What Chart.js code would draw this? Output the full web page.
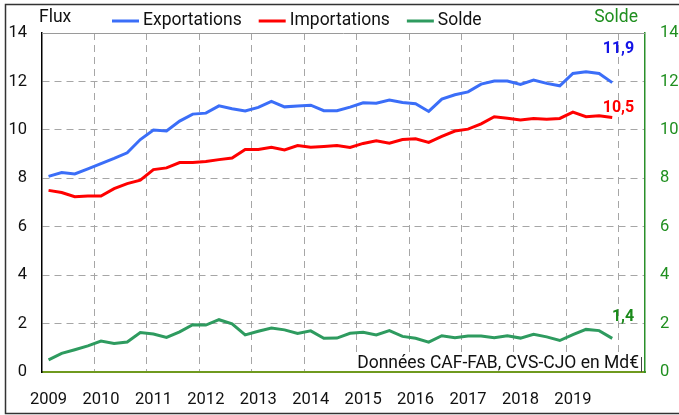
<!DOCTYPE html>
<html>
<head>
<meta charset="utf-8">
<script src="https://cdn.jsdelivr.net/npm/chart.js@4/dist/chart.umd.min.js"></script>
<style>
  html, body { margin: 0; padding: 0; background: #fff; }
  canvas { display: block; }
</style>
</head>
<body>
<canvas id="c" width="679" height="415"></canvas>
<script>
// ---- Data ----
const years = ['2009','2010','2011','2012','2013','2014','2015','2016','2017','2018','2019','2020'];
const quartersPerYear = ['T1','T2','T3','T4'];
const exportations = [8.08,8.24,8.18,8.39,8.61,8.82,9.05,9.60,9.99,9.95,
  10.36,10.65,10.69,10.99,10.87,10.78,10.93,11.18,10.95,10.99,
  11.02,10.79,10.79,10.94,11.12,11.10,11.23,11.13,11.08,10.76,
  11.27,11.45,11.57,11.89,12.02,12.02,11.88,12.06,11.92,11.82,
  12.33,12.40,12.33,11.95];
const importations = [7.50,7.41,7.24,7.27,7.27,7.57,7.78,7.92,8.36,8.43,
  8.65,8.65,8.69,8.77,8.84,9.19,9.19,9.28,9.17,9.35,
  9.28,9.31,9.35,9.27,9.44,9.55,9.45,9.60,9.63,9.48,
  9.73,9.95,10.03,10.25,10.54,10.48,10.41,10.47,10.44,10.47,
  10.73,10.54,10.58,10.51];
const solde = [0.50,0.77,0.92,1.08,1.28,1.18,1.24,1.63,1.57,1.43,
  1.66,1.95,1.94,2.16,1.99,1.53,1.68,1.82,1.74,1.59,
  1.70,1.39,1.40,1.60,1.64,1.53,1.71,1.47,1.39,1.23,
  1.50,1.42,1.49,1.49,1.42,1.50,1.40,1.56,1.45,1.30,
  1.54,1.76,1.71,1.39];
const seriesNames = ['Exportations','Importations','Solde'];
const endLabels = ['11,9','10,5','1,4'];
const yTicksMin = 0, yTicksMax = 14, yTicksStep = 2;
const leftAxisTitle = 'Flux';
const rightAxisTitle = 'Solde';
const sourceNote = 'Données CAF-FAB, CVS-CJO en Md€';
const labeledYears = years.slice(0, 11);
const extraQuarters = 2; // 2020 T1, T2 (axis extends, no data)

// categories: quarters
const categories = [];
years.forEach((y, yi) => {
  quartersPerYear.forEach((q, qi) => {
    if (yi < years.length - 1 || qi < extraQuarters) categories.push(y + q);
  });
});

// ---- Styles ----
const FONT = 'Roboto';
Chart.defaults.font.family = FONT;
const colBlue = '#3b6ef8';
const colRed = '#ff0000';
const colGreen = '#2e9b5f';
const colGreenAxis = '#1f8f1f';
const endLabelColors = ['#1414e6', '#ff0000', '#1a8a1a'];
const endLabelOffsets = [[22, -34], [22, -10], [22, -21]];

const deco = {
  id: 'deco',
  afterDatasetsDraw(chart) {
    const ctx = chart.ctx;
    const a = chart.chartArea;
    ctx.save();
    // top border of plot
    ctx.strokeStyle = '#9a9a9a';
    ctx.lineWidth = 1;
    ctx.beginPath();
    ctx.moveTo(a.left, a.top + 0.5);
    ctx.lineTo(a.right, a.top + 0.5);
    ctx.stroke();

    // source note box
    ctx.font = '17.5px ' + FONT;
    const tw = ctx.measureText(sourceNote).width;
    const rx = a.right - 5;
    ctx.fillStyle = '#fff';
    ctx.fillRect(rx - tw - 3, a.bottom - 20, tw + 5, 19);
    ctx.fillStyle = '#111';
    ctx.textAlign = 'right';
    ctx.textBaseline = 'alphabetic';
    ctx.fillText(sourceNote, rx - 1, a.bottom - 4);
    ctx.strokeStyle = '#444';
    ctx.lineWidth = 1;
    ctx.beginPath();
    ctx.moveTo(rx + 1.5, a.bottom - 15);
    ctx.lineTo(rx + 1.5, a.bottom);
    ctx.stroke();

    // end labels
    ctx.font = 'bold 16px ' + FONT;
    ctx.textAlign = 'right';
    ctx.textBaseline = 'middle';
    chart.data.datasets.forEach((ds, i) => {
      const meta = chart.getDatasetMeta(i);
      const pt = meta.data[meta.data.length - 1];
      ctx.fillStyle = endLabelColors[i];
      ctx.fillText(endLabels[i], pt.x + endLabelOffsets[i][0], pt.y + endLabelOffsets[i][1]);
    });

    // axis titles
    ctx.font = '17.5px ' + FONT;
    ctx.textBaseline = 'middle';
    ctx.textAlign = 'left';
    ctx.fillStyle = '#111';
    ctx.fillText(leftAxisTitle, 39, 18);
    ctx.textAlign = 'right';
    ctx.fillStyle = colGreenAxis;
    ctx.fillText(rightAxisTitle, 638, 18);

    // legend
    let x = 112;
    const ly = 21;
    ctx.textAlign = 'left';
    chart.data.datasets.forEach((ds) => {
      ctx.strokeStyle = ds.borderColor;
      ctx.lineWidth = 3;
      ctx.beginPath();
      ctx.moveTo(x, ly);
      ctx.lineTo(x + 27, ly);
      ctx.stroke();
      ctx.fillStyle = '#111';
      ctx.fillText(ds.label, x + 31, ly);
      x += 31 + ctx.measureText(ds.label).width + 17;
    });

    // outer frame
    ctx.strokeStyle = '#333';
    ctx.lineWidth = 1.5;
    ctx.beginPath();
    ctx.moveTo(chart.width, 4.5);
    ctx.lineTo(5.5, 4.5);
    ctx.lineTo(5.5, 413.5);
    ctx.lineTo(chart.width, 413.5);
    ctx.stroke();
    ctx.restore();
  }
};

new Chart(document.getElementById('c'), {
  type: 'line',
  data: {
    labels: categories,
    datasets: [
      { label: seriesNames[0], data: exportations, borderColor: colBlue, backgroundColor: colBlue, yAxisID: 'y' },
      { label: seriesNames[1], data: importations, borderColor: colRed, backgroundColor: colRed, yAxisID: 'y' },
      { label: seriesNames[2], data: solde, borderColor: colGreen, backgroundColor: colGreen, yAxisID: 'y2' }
    ]
  },
  options: {
    responsive: false,
    animation: false,
    devicePixelRatio: 1,
    elements: { line: { borderWidth: 3, tension: 0 }, point: { radius: 0 } },
    layout: { padding: { top: 33, left: 0, right: 0, bottom: 0 } },
    plugins: { legend: { display: false }, tooltip: { enabled: false }, title: { display: false } },
    scales: {
      x: {
        type: 'category',
        offset: true,
        grid: {
          offset: true,
          drawTicks: false,
          lineWidth: 1,
          color: (c) => (c.index !== undefined && c.index > 0 && c.index % 4 === 0 && c.index < categories.length) ? '#a6a6a6' : 'rgba(0,0,0,0)'
        },
        border: { color: '#6f9a1f', width: 2, dash: [7, 5] },
        ticks: {
          autoSkip: false, maxRotation: 0, minRotation: 0, padding: 18,
          color: '#111', font: { size: 16.5 },
          callback: (v, i) => (i % 4 === 0 && i / 4 < labeledYears.length) ? labeledYears[i / 4] : ''
        },
        afterFit: (s) => { s.height = 43; }
      },
      y: {
        position: 'left',
        min: yTicksMin, max: yTicksMax,
        ticks: { stepSize: yTicksStep, padding: 15, color: '#111', font: { size: 16.5 } },
        grid: {
          drawTicks: false, lineWidth: 1,
          color: (c) => (c.tick && c.tick.value > yTicksMin && c.tick.value < yTicksMax) ? '#a6a6a6' : 'rgba(0,0,0,0)'
        },
        border: { color: '#000', width: 1.5, dash: [7, 5] },
        afterFit: (s) => { s.width = 42; }
      },
      y2: {
        position: 'right',
        min: yTicksMin, max: yTicksMax,
        ticks: { stepSize: yTicksStep, padding: 15, color: colGreenAxis, font: { size: 16.5 } },
        grid: { drawOnChartArea: false, drawTicks: false },
        border: { color: '#2a8f2a', width: 1.5 },
        afterFit: (s) => { s.width = 34; }
      }
    }
  },
  plugins: [deco]
});
</script>
</body>
</html>
